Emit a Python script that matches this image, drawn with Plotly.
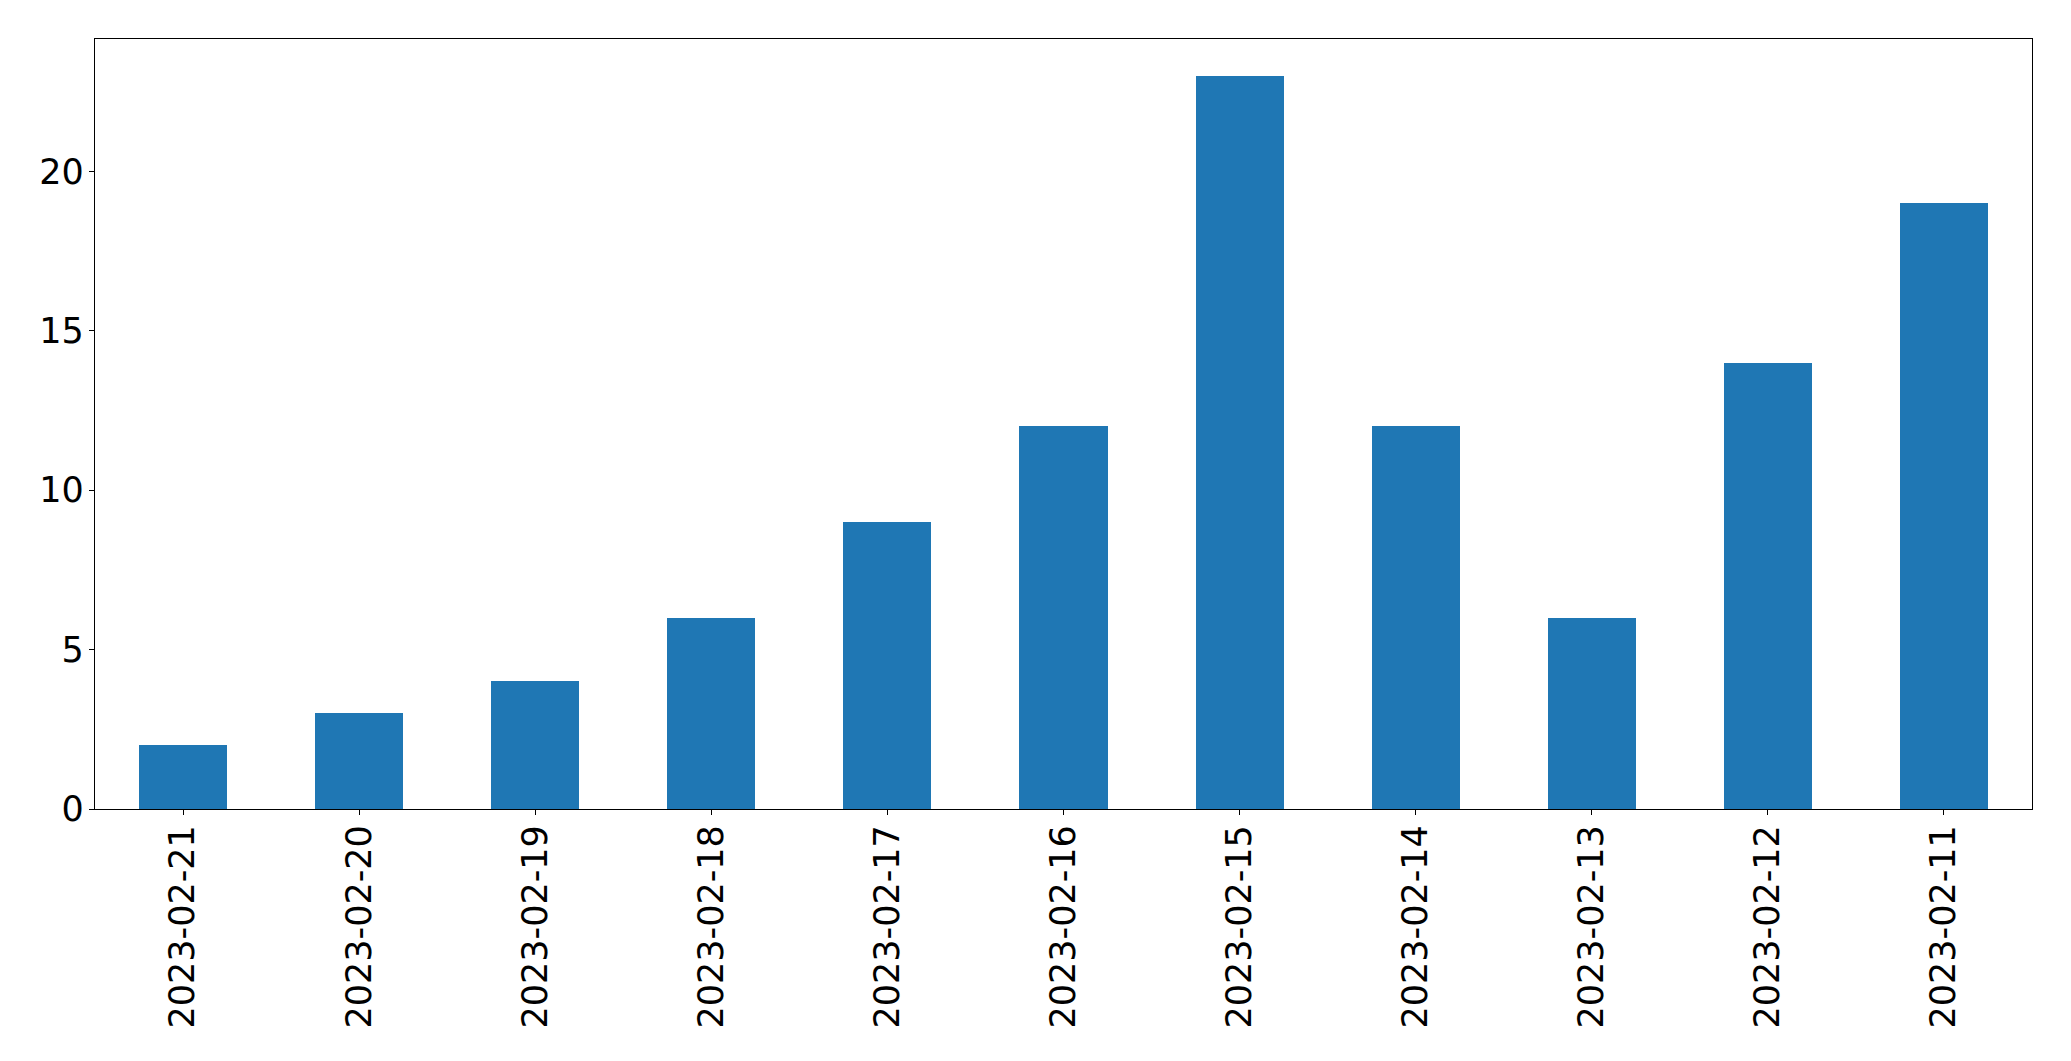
import plotly.graph_objects as go

dates = ["2023-02-21", "2023-02-20", "2023-02-19", "2023-02-18", "2023-02-17",
         "2023-02-16", "2023-02-15", "2023-02-14", "2023-02-13", "2023-02-12",
         "2023-02-11"]
counts = [2, 3, 4, 6, 9, 12, 23, 12, 6, 14, 19]
y_ticks = [0, 5, 10, 15, 20]

fig = go.Figure(go.Bar(x=dates, y=counts, width=0.5, marker=dict(color="#1f77b4", line=dict(width=0))))

fig.update_layout(
    width=2063, height=1053,
    margin=dict(l=87, r=39, t=31, b=252),
    paper_bgcolor="white", plot_bgcolor="white",
    font=dict(family="DejaVu Sans", size=35, color="black"),
    showlegend=False,
    bargap=0,
)
fig.update_xaxes(
    type="category", range=[-0.5, 10.5], tickangle=-90,
    showline=True, linecolor="black", linewidth=1.3, mirror=True,
    ticks="outside", ticklen=5, tickwidth=1.3, tickcolor="black",
    showgrid=False, zeroline=False, ticklabelstandoff=-4,
)
fig.update_yaxes(
    range=[0, 24.15], tickvals=y_ticks, ticktext=[str(v) for v in y_ticks],
    showline=True, linecolor="black", linewidth=1.3, mirror=True,
    ticks="outside", ticklen=5, tickwidth=1.3, tickcolor="black",
    showgrid=False, zeroline=False, ticklabelstandoff=-2,
)

fig.write_html("out.html")
